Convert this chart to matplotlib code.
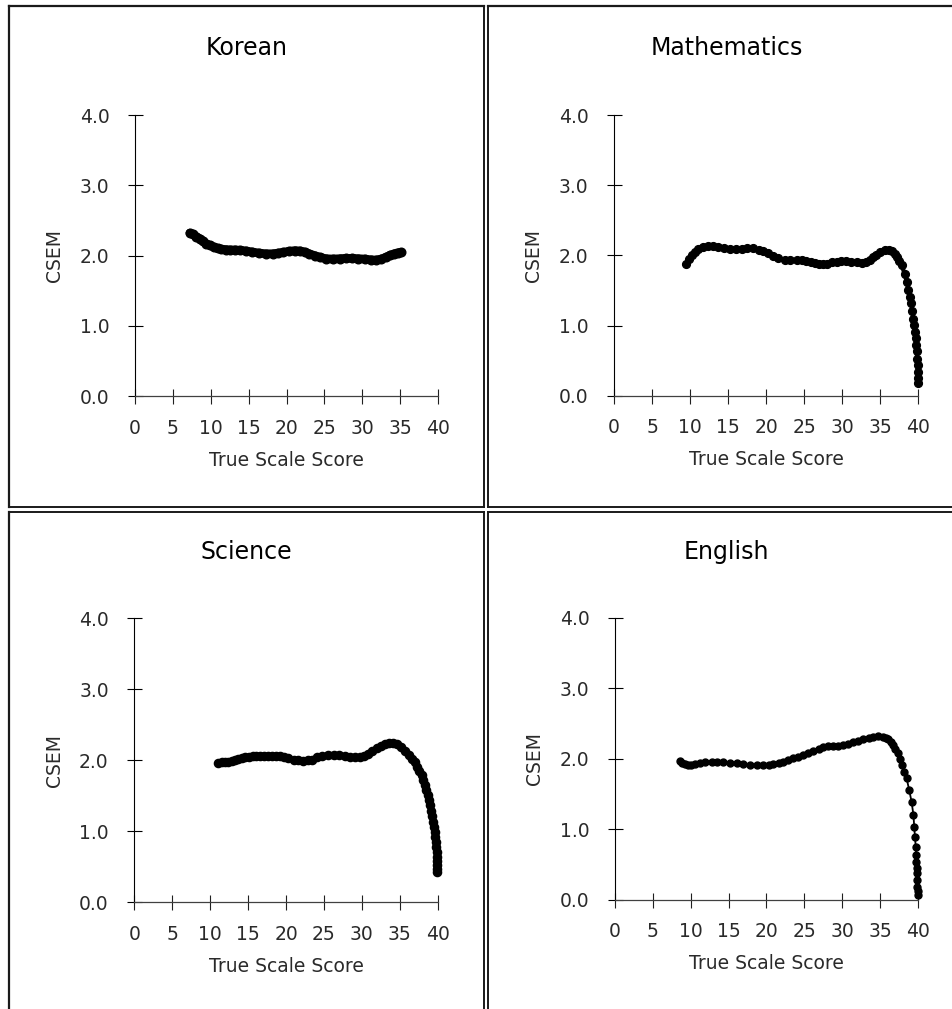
import matplotlib
matplotlib.use("Agg")
import matplotlib.pyplot as plt
from matplotlib.lines import Line2D

W, H = 953, 1009
DPI = 100

# ---- data: true scale score vs. conditional SEM ----
korean_x = [7.24, 7.7, 8.1, 8.55, 9.0, 9.4, 9.87, 10.4, 10.9, 11.4, 12.0, 12.6,
            13.2, 13.9, 14.7, 15.5, 16.4, 17.3, 18.2, 18.9, 19.5, 20.3, 21.1,
            21.8, 22.4, 23.0, 23.7, 24.4, 25.2, 26.1, 27.0, 27.8, 28.7, 29.5,
            30.3, 31.1, 31.8, 32.5, 33.1, 33.7, 34.2, 34.7, 35.1]
korean_y = [2.32, 2.30, 2.27, 2.24, 2.20, 2.17, 2.145, 2.12, 2.10, 2.09, 2.085, 2.08,
            2.08, 2.075, 2.065, 2.05, 2.035, 2.025, 2.025, 2.035, 2.045, 2.06, 2.07,
            2.065, 2.05, 2.025, 2.00, 1.975, 1.955, 1.95, 1.955, 1.96, 1.96, 1.955,
            1.95, 1.94, 1.935, 1.95, 1.975, 2.005, 2.025, 2.04, 2.045]

math_x = [9.4, 9.8, 10.2, 10.6, 11.1, 11.7, 12.4, 13.0, 13.7, 14.5, 15.3, 16.0,
          16.8, 17.5, 18.3, 19.0, 19.6, 20.3, 20.9, 21.6, 22.5, 23.2, 24.0, 24.7,
          25.3, 25.9, 26.4, 27.0, 27.5, 28.0, 28.6, 29.3, 29.9, 30.5, 31.2, 31.9,
          32.6, 33.1, 33.65, 34.1, 34.5, 35.0, 35.6, 36.1, 36.5, 36.9, 37.2, 37.5,
          37.8, 38.2, 38.5, 38.7, 38.9, 39.1, 39.2, 39.35, 39.5, 39.55, 39.65,
          39.7, 39.8, 39.85, 39.9, 39.93, 39.96, 39.97]
math_y = [1.88, 1.95, 2.00, 2.05, 2.09, 2.12, 2.14, 2.13, 2.12, 2.10, 2.09, 2.09,
          2.09, 2.10, 2.10, 2.08, 2.06, 2.03, 1.99, 1.96, 1.93, 1.93, 1.93, 1.93,
          1.92, 1.90, 1.895, 1.88, 1.87, 1.88, 1.90, 1.91, 1.92, 1.92, 1.91, 1.90,
          1.886, 1.90, 1.93, 1.97, 2.01, 2.05, 2.075, 2.07, 2.06, 2.02, 1.98, 1.92,
          1.86, 1.74, 1.62, 1.51, 1.41, 1.32, 1.21, 1.10, 1.01, 0.91, 0.82,
          0.72, 0.63, 0.53, 0.44, 0.34, 0.25, 0.18]

science_x = [11.1, 11.6, 12.0, 12.4, 12.9, 13.3, 13.7, 14.2, 14.6, 15.1, 15.6, 16.1,
             16.6, 17.1, 17.6, 18.15, 18.7, 19.2, 19.7, 20.3, 21.0, 21.6, 22.3,
             22.9, 23.4, 24.1, 24.75, 25.5, 26.3, 27.0, 27.8, 28.5, 29.15, 29.7,
             30.25, 30.8, 31.4, 32.0, 32.5, 33.0, 33.55, 34.1, 34.65, 35.2, 35.75,
             36.2, 36.6, 37.0, 37.3, 37.6, 37.9, 38.1, 38.3, 38.5, 38.7, 38.85,
             38.97, 39.15, 39.3, 39.4, 39.5, 39.6, 39.7, 39.75, 39.8, 39.85, 39.9,
             39.92, 39.94, 39.95, 39.96]
science_y = [1.96, 1.97, 1.975, 1.98, 1.99, 2.00, 2.02, 2.03, 2.04, 2.05, 2.055, 2.06,
             2.06, 2.06, 2.06, 2.06, 2.06, 2.055, 2.05, 2.03, 2.01, 2.00, 1.99,
             2.00, 2.01, 2.04, 2.06, 2.075, 2.08, 2.075, 2.06, 2.05, 2.04, 2.045,
             2.06, 2.09, 2.13, 2.17, 2.20, 2.23, 2.25, 2.25, 2.23, 2.19, 2.135,
             2.08, 2.02, 1.97, 1.91, 1.85, 1.79, 1.72, 1.65, 1.58, 1.51, 1.44,
             1.37, 1.29, 1.21, 1.13, 1.06, 0.99, 0.92, 0.85, 0.78, 0.71, 0.64,
             0.58, 0.525, 0.47, 0.43]

english_x = [8.6, 8.9, 9.25, 9.7, 10.1, 10.6, 11.2, 11.9, 12.8, 13.5, 14.3, 15.2,
             16.1, 16.9, 17.8, 18.7, 19.6, 20.3, 20.9, 21.6, 22.2, 22.9, 23.5,
             24.2, 24.85, 25.5, 26.2, 26.9, 27.5, 28.1, 28.8, 29.4, 30.1, 30.8,
             31.45, 32.1, 32.8, 33.5, 34.1, 34.7, 35.4, 35.8, 36.1, 36.4, 36.65,
             37.0, 37.3, 37.6, 37.9, 38.2, 38.5, 38.85, 39.15, 39.4, 39.5, 39.6,
             39.7, 39.76, 39.8, 39.84, 39.87, 39.9, 39.92, 39.94, 39.95]
english_y = [1.97, 1.945, 1.925, 1.915, 1.91, 1.92, 1.935, 1.95, 1.96, 1.955, 1.95, 1.945,
             1.935, 1.92, 1.91, 1.91, 1.91, 1.915, 1.92, 1.94, 1.96, 1.985, 2.005,
             2.03, 2.05, 2.08, 2.11, 2.14, 2.17, 2.175, 2.18, 2.185, 2.19, 2.21,
             2.23, 2.255, 2.28, 2.30, 2.31, 2.315, 2.31, 2.295, 2.275, 2.24, 2.19,
             2.14, 2.08, 2.00, 1.91, 1.81, 1.72, 1.55, 1.39, 1.20, 1.035, 0.89,
             0.75, 0.63, 0.54, 0.445, 0.375, 0.28, 0.18, 0.12, 0.07]

subjects = ["Korean", "Mathematics", "Science", "English"]
x_ticks = [0, 5, 10, 15, 20, 25, 30, 35, 40]
y_ticks = [0.0, 1.0, 2.0, 3.0, 4.0]
y_tick_labels = ["0.0", "1.0", "2.0", "3.0", "4.0"]
x_label = "True Scale Score"
y_label = "CSEM"

series = [(korean_x, korean_y), (math_x, math_y),
          (science_x, science_y), (english_x, english_y)]

# panel geometry in pixels: x(0), x(40), y(0), y(4), title centre
panels = [
    (135.0, 438.0, 396.0, 115.0, (246.5, 48.0)),
    (614.0, 918.3, 395.7, 115.0, (726.5, 48.0)),
    (134.3, 437.7, 902.3, 618.3, (246.5, 552.0)),
    (614.9, 918.0, 899.7, 617.7, (726.5, 552.0)),
]
styles = [
    dict(lw=6.2, ms=6.2),
    dict(lw=3.0, ms=5.6),
    dict(lw=3.4, ms=5.9),
    dict(lw=1.3, ms=5.0),
]

plt.rcParams["font.family"] = ["DejaVu Sans"]
fig = plt.figure(figsize=(W / DPI, H / DPI), dpi=DPI)
fig.patch.set_facecolor("white")

tick_col = "#2a2a2a"
for (sx, sy), name, (x0, x40, y0, y4, (tx, ty)), st in zip(series, subjects, panels, styles):
    ax = fig.add_axes([x0 / W, 1 - y0 / H, (x40 - x0) / W, (y0 - y4) / H])
    ax.set_xlim(0, 40)
    ax.set_ylim(0, 4)
    ax.set_facecolor("none")
    for s in ("top", "right"):
        ax.spines[s].set_visible(False)
    ax.spines["left"].set_color("black")
    ax.spines["left"].set_linewidth(0.8)
    ax.spines["bottom"].set_color("#404040")
    ax.spines["bottom"].set_linewidth(0.9)
    ax.set_xticks(x_ticks)
    ax.set_xticklabels([str(v) for v in x_ticks])
    ax.set_yticks(y_ticks)
    ax.set_yticklabels(y_tick_labels)
    ax.tick_params(axis="x", direction="inout", length=10.8, width=0.8,
                   color="#202020", pad=11, labelsize=13.5, labelcolor=tick_col)
    ax.tick_params(axis="y", direction="inout", length=10.8, width=0.8,
                   color="black", pad=13, labelsize=13.5, labelcolor=tick_col)

    ax.plot(sx, sy, color="black", lw=st["lw"], marker="o", ms=st["ms"],
            mec="black", mfc="black", solid_capstyle="round",
            solid_joinstyle="round", clip_on=False, zorder=3)

    xc = (x0 + x40) / 2
    fig.text(xc / W, 1 - (y0 + 64) / H, x_label, ha="center", va="center",
             fontsize=13.5, color=tick_col)
    fig.text((x0 - 80) / W, 1 - ((y0 + y4) / 2) / H, y_label, ha="center",
             va="center", rotation=90, fontsize=13.5, color=tick_col)
    fig.text(tx / W, 1 - ty / H, name, ha="center", va="center",
             fontsize=17, color="black")

# cell borders of the 2x2 layout
def hline(y, xa, xb, lw=1.4):
    fig.add_artist(Line2D([xa / W, xb / W], [1 - y / H, 1 - y / H],
                          transform=fig.transFigure, color="#1a1a1a", lw=lw))

def vline(x, ya, yb, lw=1.4):
    fig.add_artist(Line2D([x / W, x / W], [1 - ya / H, 1 - yb / H],
                          transform=fig.transFigure, color="#1a1a1a", lw=lw))

L, T, R, B = 9.5, 6.0, W + 5, H + 5
xa, xb = 484.5, 488.5
ya, yb = 507.0, 511.5
# top-left cell
hline(T, L, xa, 1.6); vline(L, T, ya, 1.6); vline(xa, T, ya); hline(ya, L, xa)
# top-right cell
hline(T, xb, R, 1.6); vline(xb, T, ya); hline(ya, xb, R)
# bottom-left cell
vline(L, yb, B, 1.6); hline(yb, L, xa); vline(xa, yb, B)
# bottom-right cell
hline(yb, xb, R); vline(xb, yb, B)

fig.savefig("out.png", dpi=DPI, facecolor="white")
